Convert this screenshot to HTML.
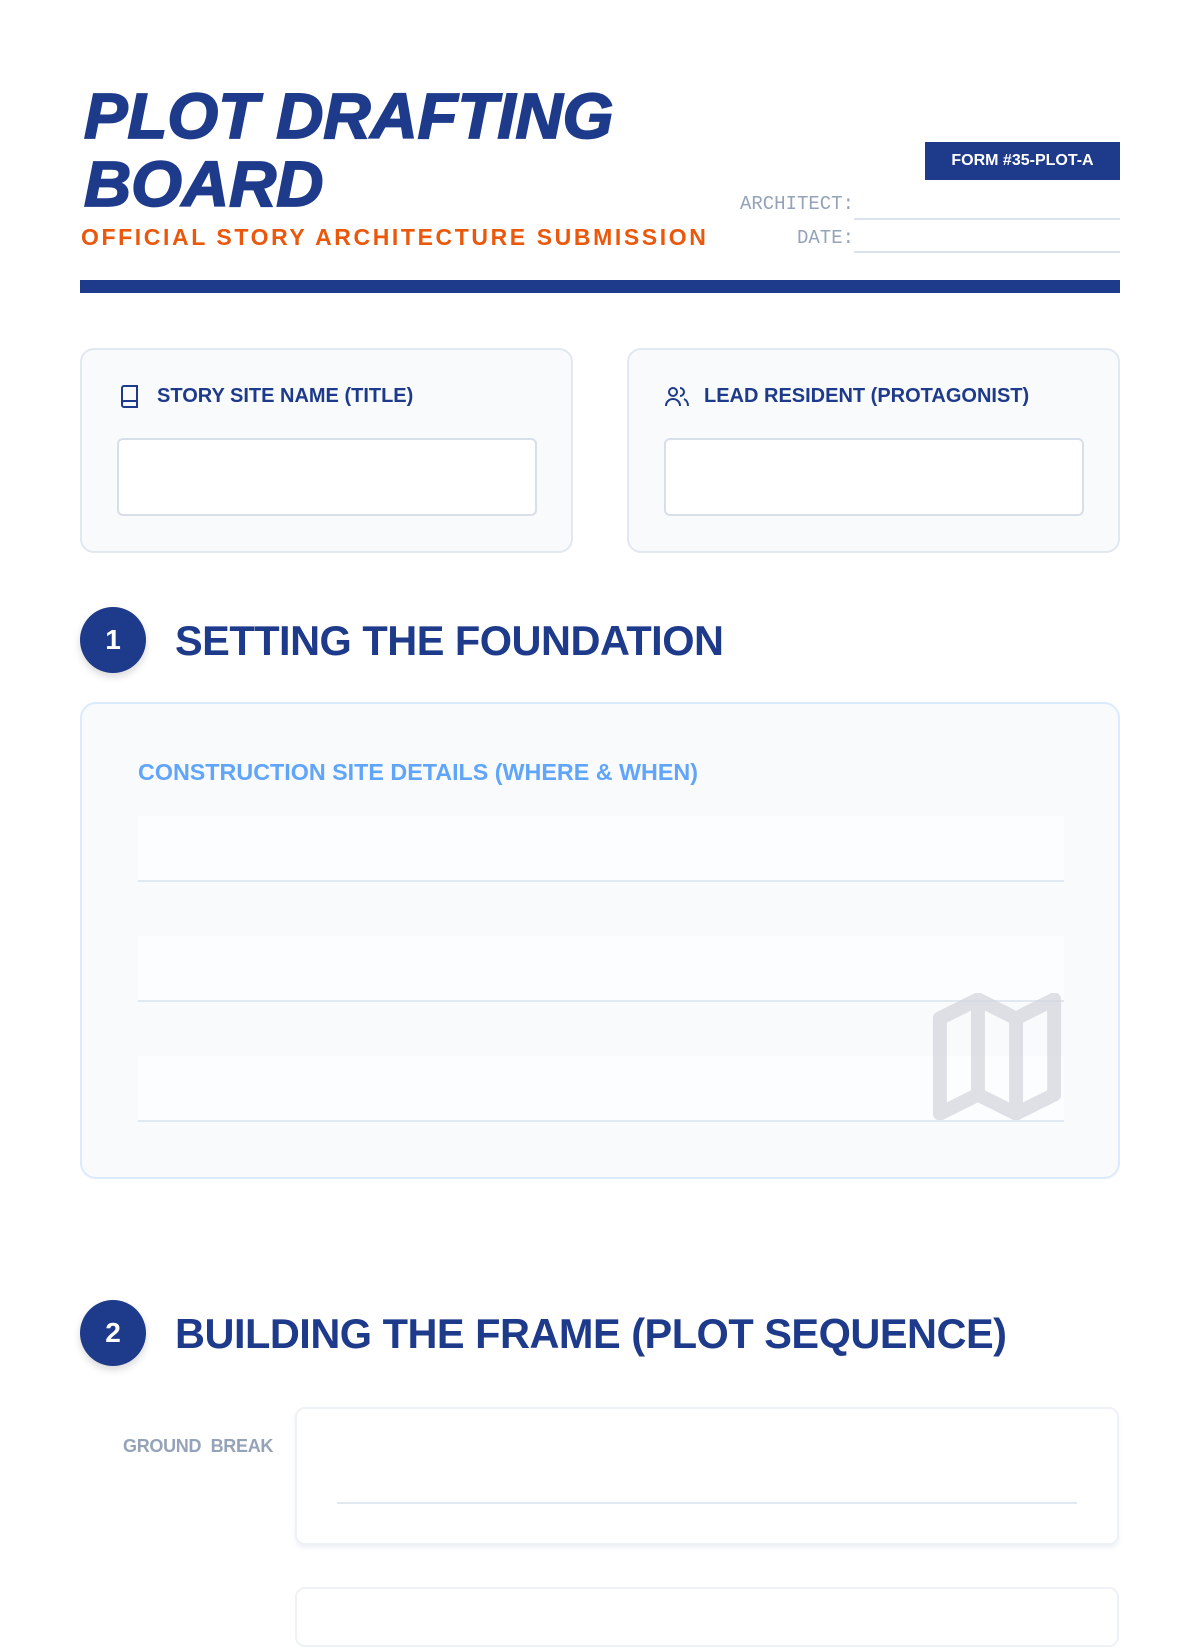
<!DOCTYPE html>
<html><head><meta charset="utf-8"><style>
*{margin:0;padding:0;box-sizing:border-box}
body{width:1200px;height:1600px;background:#fff;position:relative;overflow:hidden;font-family:"Liberation Sans",sans-serif}
.a{position:absolute}
.title{left:84px;font-size:64px;font-weight:900;font-style:italic;color:#1e3a8a;letter-spacing:0px;line-height:1;-webkit-text-stroke:1.8px #1e3a8a;transform-origin:left top;transform:scaleX(1.02)}
.sub{left:81px;top:224px;font-size:23px;font-weight:bold;color:#ea580c;letter-spacing:2.6px}
.badge{left:925px;top:142px;width:195px;height:38px;background:#1e3a8a;color:#fff;font-weight:bold;font-size:16px;text-align:center;line-height:38px}
.lbl{font-family:"Liberation Mono",monospace;color:#94a3b8;font-size:19px;text-align:right;width:160px}
.ln{height:2px;background:#dbe2ec;left:854px;width:266px}
.card{background:#f8fafc;border:2px solid #e2e8f0;border-radius:14px}
.inp{background:#fff;border:2px solid #d8dfe8;border-radius:6px}
.cl{font-size:20px;font-weight:bold;color:#1e3a8a}
.circ{width:66px;height:66px;border-radius:50%;background:#1e3a8a;color:#fff;font-weight:bold;font-size:28px;text-align:center;line-height:66px;box-shadow:0 4px 8px rgba(0,0,0,.15)}
.h{font-size:41.5px;font-weight:bold;color:#1e3a8a;letter-spacing:-0.5px}
.row{left:138px;width:926px;height:66px;background:#fcfdfe;border-bottom:2px solid #e2e8f0}
</style></head><body>
<div class="a title" style="top:84px">PLOT DRAFTING</div>
<div class="a title" style="top:152px">BOARD</div>
<div class="a sub">OFFICIAL STORY ARCHITECTURE SUBMISSION</div>
<div class="a badge">FORM #35-PLOT-A</div>
<div class="a lbl" style="left:694px;top:193px">ARCHITECT:</div>
<div class="a ln" style="top:218px"></div>
<div class="a lbl" style="left:694px;top:227px">DATE:</div>
<div class="a ln" style="top:251px"></div>
<div class="a" style="left:80px;top:280px;width:1040px;height:13px;background:#1e3a8a"></div>

<div class="a card" style="left:80px;top:348px;width:493px;height:205px"></div>
<svg class="a" style="left:119px;top:385px" width="22" height="24" viewBox="0 0 22 24"><path d="M3 3a2 2 0 0 1 2-2h13v21H5a2 2 0 0 1-2-2z M3 18a2 2 0 0 1 2-2h13" fill="none" stroke="#1e3a8a" stroke-width="2"/></svg>
<div class="a cl" style="left:157px;top:385px">STORY SITE NAME (TITLE)</div>
<div class="a inp" style="left:117px;top:438px;width:420px;height:78px"></div>

<div class="a card" style="left:627px;top:348px;width:493px;height:205px"></div>
<svg class="a" style="left:664px;top:385px" width="26" height="24" viewBox="0 0 26 24"><circle cx="9" cy="7" r="4" fill="none" stroke="#1e3a8a" stroke-width="2"/><path d="M2 21c0-4 3-7 7-7s7 3 7 7 M16 3a4 4 0 0 1 0 8 M20 14c2 1 4 3 4 7" fill="none" stroke="#1e3a8a" stroke-width="2"/></svg>
<div class="a cl" style="left:704px;top:385px">LEAD RESIDENT (PROTAGONIST)</div>
<div class="a inp" style="left:664px;top:438px;width:420px;height:78px"></div>

<div class="a circ" style="left:80px;top:607px">1</div>
<div class="a h" style="left:175px;top:617px">SETTING THE FOUNDATION</div>

<div class="a" style="left:80px;top:702px;width:1040px;height:477px;background:#f8fafc;border:2px solid #dbeafe;border-radius:16px"></div>
<div class="a" style="left:138px;top:759px;font-size:23.3px;font-weight:bold;color:#60a5fa">CONSTRUCTION SITE DETAILS (WHERE &amp; WHEN)</div>
<div class="a row" style="top:816px"></div>
<div class="a row" style="top:936px"></div>
<div class="a row" style="top:1056px"></div>
<svg class="a" style="left:932px;top:993px" width="130" height="127" viewBox="2 2 20 20" opacity="0.75"><path d="M3 6v15l6-3 6 3 6-3V3l-6 3-6-3-6 3z M9 3v15 M15 6v15" fill="none" stroke="#d4d7dd" stroke-width="2.2" stroke-linejoin="round"/></svg>

<div class="a circ" style="left:80px;top:1300px">2</div>
<div class="a h" style="left:175px;top:1310px">BUILDING THE FRAME (PLOT SEQUENCE)</div>

<div class="a" style="left:123px;top:1436px;font-size:18px;font-weight:bold;color:#94a3b8;letter-spacing:-0.3px">GROUND&nbsp; BREAK</div>
<div class="a" style="left:295px;top:1407px;width:824px;height:138px;background:#fff;border:2px solid #eef2f7;border-radius:10px;box-shadow:0 3px 4px rgba(226,232,240,.6)"></div>
<div class="a" style="left:337px;top:1502px;width:740px;height:2px;background:#e2e8f0"></div>
<div class="a" style="left:295px;top:1587px;width:824px;height:60px;background:#fff;border:2px solid #eef2f7;border-radius:10px"></div>
</body></html>
